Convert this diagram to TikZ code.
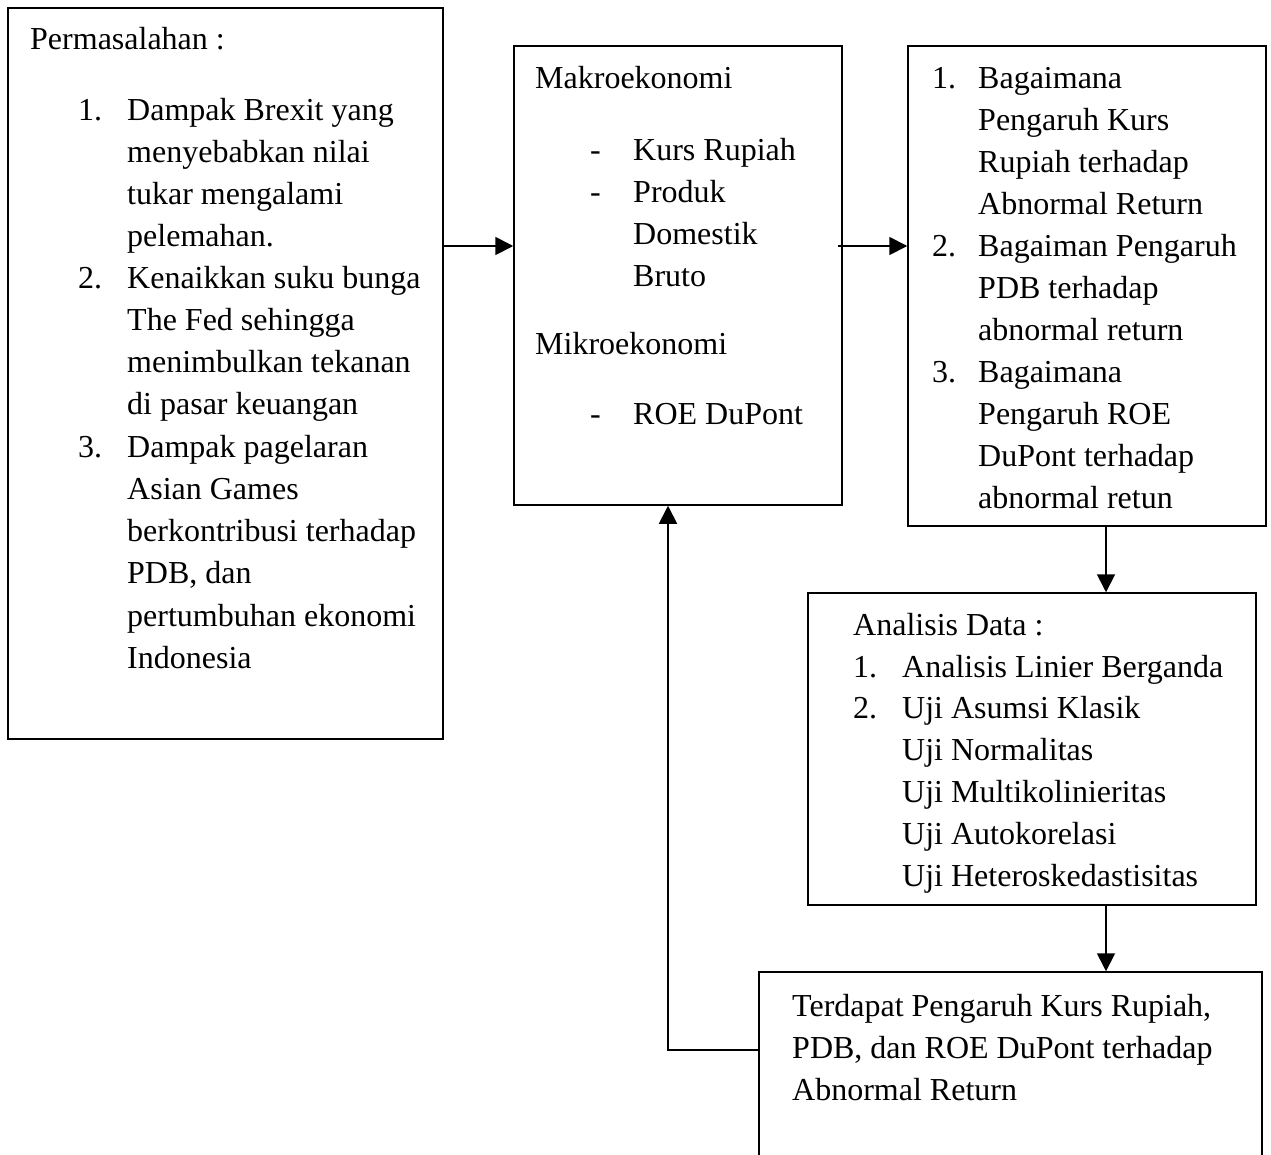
\documentclass[tikz,border=0pt]{standalone}
\usepackage{fontspec}
\setmainfont{Liberation Serif}
\usetikzlibrary{arrows.meta}
\tikzset{
  box/.style={draw, line width=1.5pt, inner sep=0pt},
  txt/.style={anchor=base west, inner sep=0pt, font=\fontsize{32}{42}\selectfont},
  arr/.style={line width=1.8pt, -{Triangle[length=18pt,width=18pt]}}
}
\begin{document}
\begin{tikzpicture}[x=1pt,y=-1pt]
\useasboundingbox (0,0) rectangle (1271,1154);
\clip (0,0) rectangle (1271,1154);
\fill[white] (0,0) rectangle (1271,1154);
% boxes
\node[box, minimum width=435pt, minimum height=731pt] (b1) at (225.5,373.5) {};
\node[box, minimum width=328pt, minimum height=459pt] (b2) at (678,275.5) {};
\node[box, minimum width=358pt, minimum height=480pt] (b3) at (1087,286) {};
\node[box, minimum width=448pt, minimum height=312pt] (b4) at (1032,749) {};
\node[box, minimum width=503pt, minimum height=200pt] (b5) at (1010.5,1072) {};
% box 1 text
\node[txt] (p0) at (30,49) {Permasalahan :};
\node[txt] (p1n) at (78,120) {1.};
\node[txt] (p1a) at (127,120) {Dampak Brexit yang};
\node[txt] (p1b) at (127,162) {menyebabkan nilai};
\node[txt] (p1c) at (127,204) {tukar mengalami};
\node[txt] (p1d) at (127,246) {pelemahan.};
\node[txt] (p2n) at (78,288) {2.};
\node[txt] (p2a) at (127,288) {Kenaikkan suku bunga};
\node[txt] (p2b) at (127,330) {The Fed sehingga};
\node[txt] (p2c) at (127,372) {menimbulkan tekanan};
\node[txt] (p2d) at (127,414) {di pasar keuangan};
\node[txt] (p3n) at (78,457) {3.};
\node[txt] (p3a) at (127,457) {Dampak pagelaran};
\node[txt] (p3b) at (127,499) {Asian Games};
\node[txt] (p3c) at (127,541) {berkontribusi terhadap};
\node[txt] (p3d) at (127,583) {PDB, dan};
\node[txt] (p3e) at (127,626) {pertumbuhan ekonomi};
\node[txt] (p3f) at (127,668) {Indonesia};
% box 2 text
\node[txt] (m0) at (535,88) {Makroekonomi};
\node[txt] (m1d) at (590,160) {-};
\node[txt] (m1) at (633,160) {Kurs Rupiah};
\node[txt] (m2d) at (590,202) {-};
\node[txt] (m2a) at (633,202) {Produk};
\node[txt] (m2b) at (633,244) {Domestik};
\node[txt] (m2c) at (633,286) {Bruto};
\node[txt] (k0) at (535,354) {Mikroekonomi};
\node[txt] (k1d) at (590,424) {-};
\node[txt] (k1) at (633,424) {ROE DuPont};
% box 3 text
\node[txt] (q1n) at (932,88) {1.};
\node[txt] (q1a) at (978,88) {Bagaimana};
\node[txt] (q1b) at (978,130) {Pengaruh Kurs};
\node[txt] (q1c) at (978,172) {Rupiah terhadap};
\node[txt] (q1d) at (978,214) {Abnormal Return};
\node[txt] (q2n) at (932,256) {2.};
\node[txt] (q2a) at (978,256) {Bagaiman Pengaruh};
\node[txt] (q2b) at (978,298) {PDB terhadap};
\node[txt] (q2c) at (978,340) {abnormal return};
\node[txt] (q3n) at (932,382) {3.};
\node[txt] (q3a) at (978,382) {Bagaimana};
\node[txt] (q3b) at (978,424) {Pengaruh ROE};
\node[txt] (q3c) at (978,466) {DuPont terhadap};
\node[txt] (q3d) at (978,508) {abnormal retun};
% box 4 text
\node[txt] (a0) at (853,635) {Analisis Data :};
\node[txt] (a1n) at (853,677) {1.};
\node[txt] (a1) at (902,677) {Analisis Linier Berganda};
\node[txt] (a2n) at (853,718) {2.};
\node[txt] (a2) at (902,718) {Uji Asumsi Klasik};
\node[txt] (a3) at (902,760) {Uji Normalitas};
\node[txt] (a4) at (902,802) {Uji Multikolinieritas};
\node[txt] (a5) at (902,844) {Uji Autokorelasi};
\node[txt] (a6) at (902,886) {Uji Heteroskedastisitas};
% box 5 text
\node[txt] (c1t) at (792,1016) {Terdapat Pengaruh Kurs Rupiah,};
\node[txt] (c2t) at (792,1058) {PDB, dan ROE DuPont terhadap};
\node[txt] (c3t) at (792,1100) {Abnormal Return};
% connectors
\coordinate (r1) at (0,246);
\coordinate (cx) at (1106,0);
\coordinate (r2) at (0,1050);
\coordinate (cy) at (668,0);
\draw[arr] (b1.east |- r1) -- (b2.west |- r1);
\draw[arr] ([xshift=-5pt]b2.east |- r1) -- (b3.west |- r1);
\draw[arr] (b3.south -| cx) -- (b4.north -| cx);
\draw[arr] (b4.south -| cx) -- (b5.north -| cx);
\draw[arr] (b5.west |- r2) -| (b2.south -| cy);
\end{tikzpicture}
\end{document}
